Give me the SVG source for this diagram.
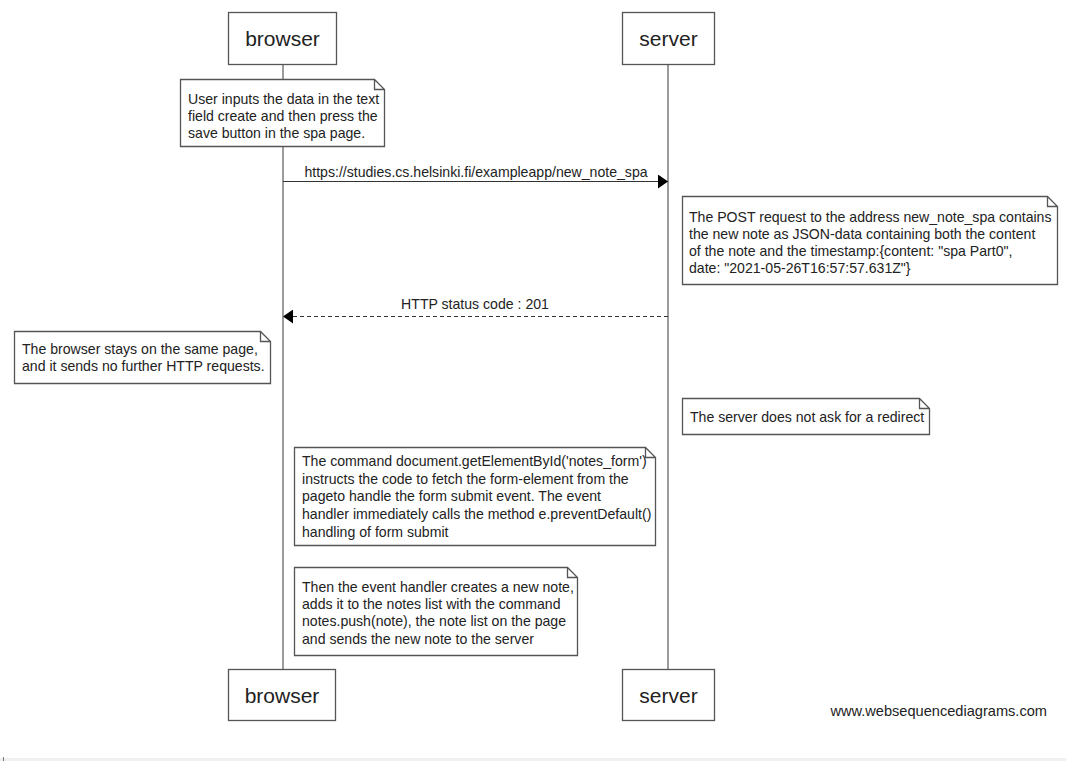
<svg xmlns="http://www.w3.org/2000/svg" width="1066" height="761" viewBox="0 0 1066 761">
  <style>
    text { font-family: "Liberation Sans", Arial, sans-serif; fill: #222; }
    .actor rect { fill: #fff; stroke: #555; stroke-width: 1.3; }
    .actor text { font-size: 21px; text-anchor: middle; }
    .life { stroke: #666; stroke-width: 1.3; }
    .note path { fill: #fff; stroke: #555; stroke-width: 1.3; }
    .note text { font-size: 14.1px; }
    .msg { stroke: #333; stroke-width: 1.2; fill: none; }
    .dash { stroke-dasharray: 4 3; }
    .lbl { font-size: 14.1px; text-anchor: middle; }
  </style>
  <defs>
    <marker id="head" viewBox="0 0 10 14" refX="10" refY="7" markerWidth="10" markerHeight="14" markerUnits="userSpaceOnUse" orient="auto">
      <path d="M0,0 L10,7 L0,14 Z" fill="#000"/>
    </marker>
  </defs>
  <rect x="0" y="0" width="1066" height="761" fill="#fff"/>

  <!-- lifelines -->
  <g id="lifelines">
    <line class="life" x1="283" y1="65" x2="283" y2="669"/>
    <line class="life" x1="668" y1="65" x2="668" y2="669"/>
  </g>

  <!-- participants -->
  <g id="browser-top" class="actor">
    <rect x="228.5" y="12.5" width="108" height="52"/>
    <text x="282.5" y="46">browser</text>
  </g>
  <g id="server-top" class="actor">
    <rect x="622.5" y="12.5" width="92" height="52"/>
    <text x="668.5" y="46">server</text>
  </g>
  <g id="browser-bottom" class="actor">
    <rect x="228.5" y="669.5" width="107" height="51"/>
    <text x="282" y="703">browser</text>
  </g>
  <g id="server-bottom" class="actor">
    <rect x="622.5" y="669.5" width="92" height="51"/>
    <text x="668.5" y="703">server</text>
  </g>

  <!-- messages -->
  <g id="connectors">
    <line class="msg" x1="283" y1="181.5" x2="668" y2="181.5" marker-end="url(#head)"/>
    <text class="lbl" x="476" y="177">https://studies.cs.helsinki.fi/exampleapp/new_note_spa</text>
    <line class="msg dash" x1="668" y1="316.5" x2="283" y2="316.5" marker-end="url(#head)"/>
    <text class="lbl" x="475" y="309">HTTP status code : 201</text>
  </g>

  <!-- notes -->
  <g id="note-input" class="note">
    <path d="M180.5,79.5 H374.5 L384.5,89.5 V146.5 H180.5 Z M374.5,79.5 V89.5 H384.5"/>
    <text x="188" y="104">User inputs the data in the text</text>
    <text x="188" y="121">field create and then press the</text>
    <text x="188" y="138">save button in the spa page.</text>
  </g>
  <g id="note-post" class="note">
    <path d="M682.5,196.5 H1047.5 L1057.5,206.5 V284.5 H682.5 Z M1047.5,196.5 V206.5 H1057.5"/>
    <text x="689" y="222">The POST request to the address new_note_spa contains</text>
    <text x="689" y="239">the new note as JSON-data containing both the content</text>
    <text x="689" y="256">of the note and the timestamp:{content: "spa Part0",</text>
    <text x="689" y="273">date: "2021-05-26T16:57:57.631Z"}</text>
  </g>
  <g id="note-stay" class="note">
    <path d="M14.5,331.5 H260.5 L270.5,341.5 V383.5 H14.5 Z M260.5,331.5 V341.5 H270.5"/>
    <text x="22" y="354">The browser stays on the same page,</text>
    <text x="22" y="371">and it sends no further HTTP requests.</text>
  </g>
  <g id="note-redirect" class="note">
    <path d="M682.5,398.5 H919.5 L929.5,408.5 V434.5 H682.5 Z M919.5,398.5 V408.5 H929.5"/>
    <text x="690" y="422">The server does not ask for a redirect</text>
  </g>
  <g id="note-form" class="note">
    <path d="M294.5,447.5 H645.5 L655.5,457.5 V545.5 H294.5 Z M645.5,447.5 V457.5 H655.5"/>
    <text x="302" y="466">The command document.getElementById('notes_form')</text>
    <text x="302" y="484">instructs the code to fetch the form-element from the</text>
    <text x="302" y="501">pageto handle the form submit event. The event</text>
    <text x="302" y="519">handler immediately calls the method e.preventDefault()</text>
    <text x="302" y="537">handling of form submit</text>
  </g>
  <g id="note-push" class="note">
    <path d="M294.5,567.5 H567.5 L577.5,577.5 V655.5 H294.5 Z M567.5,567.5 V577.5 H577.5"/>
    <text x="302" y="592">Then the event handler creates a new note,</text>
    <text x="302" y="609">adds it to the notes list with the command</text>
    <text x="302" y="626">notes.push(note), the note list on the page</text>
    <text x="302" y="644">and sends the new note to the server</text>
  </g>

  <text x="1047" y="716" font-size="14.6" text-anchor="end">www.websequencediagrams.com</text>
  <rect x="0" y="758" width="1066" height="3" fill="#f0f0f0"/>
  <rect x="3" y="757" width="1" height="4" fill="#777"/>
</svg>
